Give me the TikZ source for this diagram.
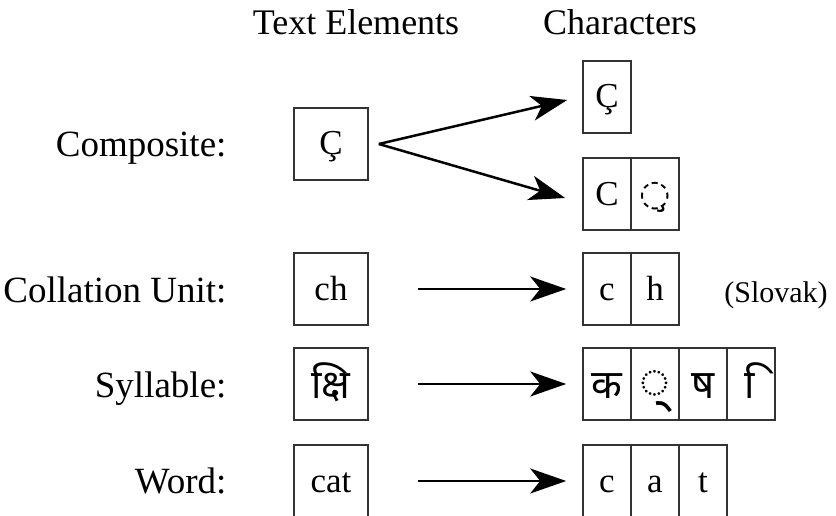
\documentclass[tikz,border=0pt]{standalone}
\usepackage{fontspec}
\setmainfont{Liberation Serif}
\newfontfamily\devfont[Script=Devanagari]{Noto Sans}
\newfontfamily\markfont{DejaVu Sans}
\usetikzlibrary{arrows.meta}

\tikzset{
    cell/.style={draw=black!80, line width=1.6pt, minimum width=48pt,
        minimum height=72pt, inner sep=0pt, text height=26pt, text depth=4pt,
        font=\fontsize{35}{40}\selectfont},
    elem/.style={cell, minimum width=74pt},
    devcell/.style={cell, text height=30pt, text depth=2pt,
        font=\devfont\fontsize{40}{44}\selectfont},
    rowlabel/.style={anchor=base east, font=\fontsize{37}{42}\selectfont},
    head/.style={anchor=base, font=\fontsize{36}{40}\selectfont},
    conn/.style={line width=2.5pt, -{Stealth[length=36pt,width=25pt,inset=10pt]}}
}

\begin{document}
\begin{tikzpicture}[x=1pt,y=-1pt]
    \useasboundingbox (0,0) rectangle (836,516);
    % headings
    \node[head] (hdtext) at (356,35) {Text Elements};
    \node[head] (hdchar) at (620,35) {Characters};
    % row labels
    \node[rowlabel] (lbcomp) at (230,157) {Composite:};
    \node[rowlabel] (lbcoll) at (230,302) {Collation Unit:};
    \node[rowlabel] (lbsyll) at (230,397) {Syllable:};
    \node[rowlabel] (lbword) at (230,493) {Word:};
    % text elements
    \node[elem] (tecomp) at (331,144) {Ç};
    \node[elem] (tecoll) at (331,289) {ch};
    \node[devcell, minimum width=74pt] (tesyll) at (331,384) {क्षि};
    \node[elem] (teword) at (331,481) {cat};
    % characters
    \node[cell] (chcompA) at (607,97) {Ç};
    \node[cell] (chcompB) at (607,194) {C};
    \node[cell, font=\markfont\fontsize{36}{40}\selectfont] (chcompC) at (655,194) {◌̧};
    \node[cell] (chcollA) at (607,289) {c};
    \node[cell] (chcollB) at (655,289) {h};
    \node[devcell] (chsyllA) at (607,384) {क};
    \node[devcell] (chsyllB) at (655,384) {\scalebox{1.3}{◌्}};
    \node[devcell] (chsyllC) at (703,384) {ष};
    \node[devcell] (chsyllD) at (751,384) {\hspace*{8pt}\char"00A0 ि};
    \node[cell] (chwordA) at (607,481) {c};
    \node[cell] (chwordB) at (655,481) {a};
    \node[cell] (chwordC) at (703,481) {t};
    \node[font=\fontsize{30}{34}\selectfont, anchor=base] (slovak) at (776,302) {(Slovak)};
    % connectors
    \coordinate (fork) at ([xshift=10pt]tecomp.east);
    \draw[conn] (fork) -- ([xshift=-15pt,yshift=-3pt]chcompA.west);
    \draw[conn] (fork) -- ([xshift=-17pt,yshift=-4pt]chcompB.west);
    \draw[conn, shorten <=49pt, shorten >=16pt] (tecoll) -- (chcollA);
    \draw[conn, shorten <=49pt, shorten >=16pt] (tesyll) -- (chsyllA);
    \draw[conn, shorten <=49pt, shorten >=16pt] (teword) -- (chwordA);
\end{tikzpicture}
\end{document}
